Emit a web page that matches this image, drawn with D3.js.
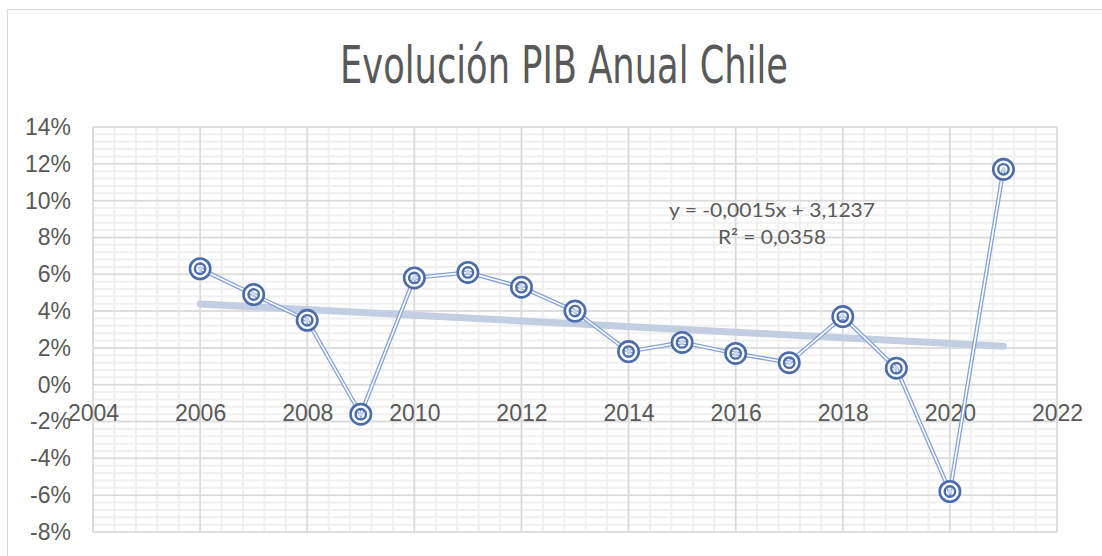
<!DOCTYPE html>
<html>
<head>
<meta charset="utf-8">
<script src="https://cdn.jsdelivr.net/npm/d3@7"></script>
<style>
  body { margin: 0; background: #fff; }
  svg { display: block; }
</style>
</head>
<body>
<svg width="1102" height="556"></svg>
<script>
const years = [2006, 2007, 2008, 2009, 2010, 2011, 2012, 2013, 2014, 2015, 2016, 2017, 2018, 2019, 2020, 2021];
const pib = [6.3, 4.9, 3.5, -1.6, 5.8, 6.1, 5.3, 4.0, 1.8, 2.3, 1.7, 1.2, 3.7, 0.9, -5.8, 11.7];
const xTicks = [2004, 2006, 2008, 2010, 2012, 2014, 2016, 2018, 2020, 2022];
const yTicks = [14, 12, 10, 8, 6, 4, 2, 0, -2, -4, -6, -8];
const title = "Evolución PIB Anual Chile";
const eqLines = ["y = -0,0015x + 3,1237", "R² = 0,0358"];

const svg = d3.select("svg");
const x = d3.scaleLinear().domain([2004, 2022]).range([93, 1057]);
const y = d3.scaleLinear().domain([-8, 14]).range([532, 127]);

// chart border
svg.append("rect")
  .attr("x", 7.5).attr("y", 9.5)
  .attr("width", 1110).attr("height", 560)
  .attr("fill", "#fff").attr("stroke", "#d9d9d9");

// title (condensed look)
svg.append("text")
  .attr("x", 564).attr("y", 83)
  .attr("text-anchor", "middle")
  .attr("font-family", "'DejaVu Sans Condensed', 'DejaVu Sans', sans-serif")
  .attr("font-stretch", "condensed")
  .attr("font-size", 51)
  .attr("fill", "#595959")
  .attr("textLength", 448)
  .attr("lengthAdjust", "spacingAndGlyphs")
  .text(title);

// minor gridlines
const g = svg.append("g");
const minorX = d3.range(2004, 2022.001, 0.4);
const minorY = d3.range(-8, 14.001, 0.4);
g.selectAll(".mx").data(minorX).join("line")
  .attr("x1", d => x(d)).attr("x2", d => x(d))
  .attr("y1", y(14)).attr("y2", y(-8))
  .attr("stroke", "#f0f0f0").attr("stroke-width", 2);
g.selectAll(".my").data(minorY).join("line")
  .attr("x1", x(2004)).attr("x2", x(2022))
  .attr("y1", d => y(d)).attr("y2", d => y(d))
  .attr("stroke", "#f0f0f0").attr("stroke-width", 2);

// major gridlines
g.selectAll(".gx").data(xTicks).join("line")
  .attr("x1", d => x(d)).attr("x2", d => x(d))
  .attr("y1", y(14)).attr("y2", y(-8))
  .attr("stroke", "#d9d9d9").attr("stroke-width", 1.5);
g.selectAll(".gy").data(yTicks).join("line")
  .attr("x1", x(2004)).attr("x2", x(2022))
  .attr("y1", d => y(d)).attr("y2", d => y(d))
  .attr("stroke", "#d9d9d9").attr("stroke-width", 1.5);

// axes
const yAxis = svg.append("g")
  .attr("transform", "translate(71,0)")
  .call(d3.axisLeft(y).tickValues(yTicks).tickFormat(d => d + "%").tickSize(0).tickPadding(0));
yAxis.select(".domain").remove();
yAxis.selectAll("text")
  .attr("font-family", "'Liberation Sans', Arial, sans-serif")
  .attr("font-size", 23).attr("fill", "#595959");

const xAxis = svg.append("g")
  .attr("transform", `translate(0,${y(0)})`)
  .call(d3.axisBottom(x).tickValues(xTicks).tickFormat(d3.format("d")).tickSize(0).tickPadding(20));
xAxis.select(".domain").remove();
xAxis.selectAll("text")
  .attr("font-family", "'Liberation Sans', Arial, sans-serif")
  .attr("font-size", 23).attr("fill", "#595959");

// linear trendline from least squares
const n = years.length;
const mx = d3.mean(years), my = d3.mean(pib);
const slope = d3.sum(years, (d, i) => (d - mx) * (pib[i] - my)) / d3.sum(years, d => (d - mx) ** 2);
const icpt = my - slope * mx;
const trend = [years[0], years[n - 1]].map(d => [d, icpt + slope * d]);
svg.append("path")
  .datum(trend)
  .attr("d", d3.line().x(d => x(d[0])).y(d => y(d[1])))
  .attr("stroke", "#c3cee2").attr("stroke-width", 7)
  .attr("stroke-linecap", "round").attr("fill", "none");

// double series line
const pts = years.map((d, i) => [d, pib[i]]);
const line = d3.line().x(d => x(d[0])).y(d => y(d[1]));
svg.append("path").datum(pts).attr("d", line)
  .attr("fill", "none").attr("stroke", "#84a2d9").attr("stroke-width", 4.2);
svg.append("path").datum(pts).attr("d", line)
  .attr("fill", "none").attr("stroke", "#fff").attr("stroke-width", 1.6);

// double circle markers
const mk = svg.append("g").selectAll("g").data(pts).join("g")
  .attr("transform", d => `translate(${x(d[0])},${y(d[1])})`);
mk.append("circle").attr("r", 7.6).attr("fill", "none")
  .attr("stroke", "#fff").attr("stroke-width", 5);
mk.append("circle").attr("r", 2.4).attr("fill", "#c9d5ec");
mk.append("circle").attr("r", 10.2).attr("fill", "none")
  .attr("stroke", "#4a6cab").attr("stroke-width", 2.6);
mk.append("circle").attr("r", 5.2).attr("fill", "none")
  .attr("stroke", "#4a6cab").attr("stroke-width", 2.4);

// trendline equation
const eq = svg.append("g")
  .attr("font-family", "Lato, 'Open Sans', sans-serif")
  .attr("font-size", 19).attr("fill", "#595959")
  .attr("text-anchor", "middle");
eq.append("text").attr("x", 772).attr("y", 217)
  .attr("textLength", 206).attr("lengthAdjust", "spacingAndGlyphs").text(eqLines[0]);
eq.append("text").attr("x", 772).attr("y", 244)
  .attr("textLength", 108).attr("lengthAdjust", "spacingAndGlyphs").text(eqLines[1]);
</script>
</body>
</html>
